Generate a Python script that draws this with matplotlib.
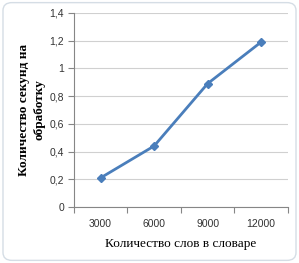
import matplotlib.pyplot as plt
from matplotlib.patches import FancyBboxPatch
import matplotlib.ticker as mtick

# Data
words = ['3000', '6000', '9000', '12000']
seconds = [0.21, 0.44, 0.89, 1.19]
y_ticks = [0, 0.2, 0.4, 0.6, 0.8, 1.0, 1.2, 1.4]

plt.rcParams['font.family'] = 'Liberation Sans'

fig = plt.figure(figsize=(2.99, 2.63), dpi=100)
ax = fig.add_axes([0.247, 0.213, 0.716, 0.738])

x = list(range(len(words)))
ax.plot(x, seconds, color='#4A7EBB', linewidth=2, marker='D', markersize=4.5,
        markerfacecolor='#4A7EBB', markeredgecolor='#4A7EBB')

ax.set_xlim(-0.5, len(words) - 0.5)
ax.set_ylim(0, 1.4)
ax.set_yticks(y_ticks)
ax.yaxis.set_major_formatter(mtick.FuncFormatter(lambda v, p: f'{v:g}'.replace('.', ',')))

# tick marks between categories, labels centred on categories
ax.set_xticks([i - 0.5 for i in range(len(words) + 1)])
ax.set_xticklabels([])
ax.set_xticks(x, minor=True)
ax.set_xticklabels(words, minor=True, fontfamily='Liberation Sans')
ax.tick_params(axis='x', which='major', length=4, color='#868686')
ax.tick_params(axis='x', which='minor', length=0, pad=9, labelsize=7.5, labelcolor='#333333')
ax.tick_params(axis='y', length=4, color='#868686', pad=3, labelsize=7.5, labelcolor='#333333')

ax.grid(True, axis='y', color='#D0D0D0', linewidth=0.8)
ax.set_axisbelow(True)
for s in ['top', 'right']:
    ax.spines[s].set_visible(False)
for s in ['left', 'bottom']:
    ax.spines[s].set_color('#868686')
    ax.spines[s].set_linewidth(0.8)

ax.set_xlabel('Количество слов в словаре', fontfamily='Liberation Serif', fontsize=9.5, labelpad=6)
ax.set_ylabel('Количество секунд на\nобработку', fontfamily='Liberation Serif', fontsize=9.5,
              fontweight='bold', labelpad=3, linespacing=1.35)

# rounded light border around the chart
fig.patches.append(FancyBboxPatch((0.01, 0.01), 0.98, 0.98, boxstyle='round,pad=0,rounding_size=0.03',
                                  transform=fig.transFigure, fill=False, edgecolor='#D5DDE5', linewidth=1))

fig.savefig('out.png', dpi=100)
